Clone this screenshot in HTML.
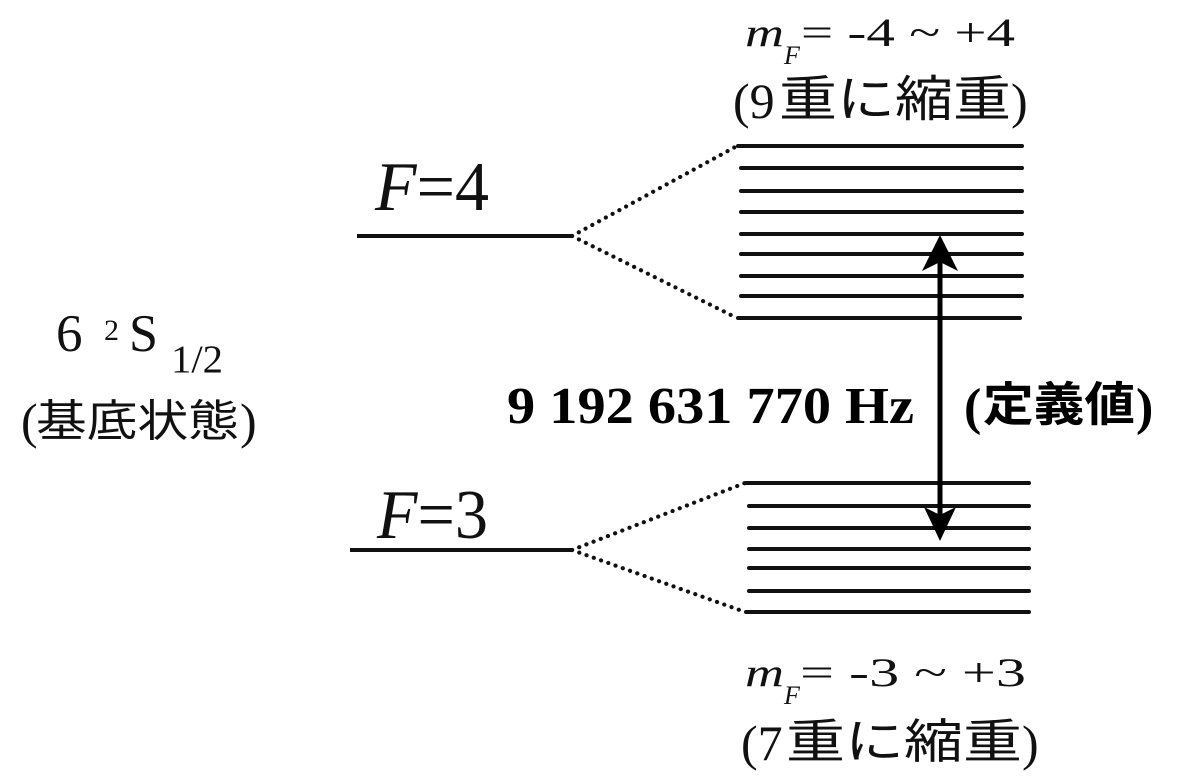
<!DOCTYPE html>
<html>
<head>
<meta charset="utf-8">
<style>
  html, body { margin: 0; padding: 0; background: #ffffff; }
  body { width: 1200px; height: 781px; overflow: hidden; }
  svg { display: block; }
  .serif { font-family: "Liberation Serif", "Noto Serif CJK SC", serif; }
  .cjk { font-family: "Liberation Sans", "Noto Sans CJK JP", sans-serif; }
</style>
</head>
<body>
<svg width="1200" height="781" viewBox="0 0 1200 781" xmlns="http://www.w3.org/2000/svg">
  <rect width="1200" height="781" fill="#ffffff"/>

  <!-- Main levels -->
  <g stroke="#111" stroke-width="4" stroke-linecap="butt">
    <line x1="357" y1="236" x2="571" y2="236"/>
    <line x1="350" y1="550" x2="571" y2="550"/>
  </g>

  <!-- Dotted connectors -->
  <g stroke="#111" stroke-width="4.2" stroke-linecap="round" stroke-dasharray="0.1 7.6" fill="none">
    <line x1="572" y1="236" x2="737" y2="146"/>
    <line x1="572" y1="236" x2="737" y2="318"/>
    <line x1="572" y1="550" x2="745" y2="483"/>
    <line x1="572" y1="550" x2="745" y2="612"/>
  </g>

  <!-- F=4 sublevels (9) -->
  <g stroke="#111" stroke-width="4" stroke-linecap="round">
    <line x1="738" y1="146" x2="1022" y2="146"/>
    <line x1="741" y1="168" x2="1022" y2="168"/>
    <line x1="741" y1="191" x2="1022" y2="191"/>
    <line x1="741" y1="212" x2="1022" y2="212"/>
    <line x1="741" y1="234" x2="1022" y2="234"/>
    <line x1="741" y1="254" x2="1022" y2="254"/>
    <line x1="741" y1="276" x2="1022" y2="276"/>
    <line x1="741" y1="296" x2="1022" y2="296"/>
    <line x1="738" y1="318" x2="1020" y2="318"/>
  </g>

  <!-- F=3 sublevels (7) -->
  <g stroke="#111" stroke-width="4" stroke-linecap="round">
    <line x1="746" y1="483" x2="1029" y2="483"/>
    <line x1="749" y1="506" x2="1029" y2="506"/>
    <line x1="749" y1="528" x2="1029" y2="528"/>
    <line x1="749" y1="549" x2="1029" y2="549"/>
    <line x1="749" y1="568" x2="1029" y2="568"/>
    <line x1="749" y1="591" x2="1029" y2="591"/>
    <line x1="746" y1="612" x2="1029" y2="612"/>
  </g>

  <!-- Double arrow -->
  <line x1="940" y1="258" x2="940" y2="518" stroke="#000" stroke-width="5"/>
  <polygon points="940,235 958,271 940,262 922,271" fill="#000"/>
  <polygon points="940,541 956,507 940,515 924,507" fill="#000"/>

  <!-- F=4 / F=3 labels -->
  <text class="serif" x="375" y="210" font-size="70" textLength="114" lengthAdjust="spacingAndGlyphs" fill="#111"><tspan font-style="italic">F</tspan>=4</text>
  <text class="serif" x="377" y="538" font-size="70" textLength="111" lengthAdjust="spacingAndGlyphs" fill="#111"><tspan font-style="italic">F</tspan>=3</text>

  <!-- 6 2S1/2 -->
  <text class="serif" x="56" y="351" font-size="53" fill="#111">6</text>
  <text class="serif" x="104" y="340" font-size="30" fill="#111">2</text>
  <text class="serif" x="129" y="351" font-size="53" textLength="29" lengthAdjust="spacingAndGlyphs" fill="#111">S</text>
  <text class="serif" x="171" y="372" font-size="39" textLength="52" lengthAdjust="spacingAndGlyphs" fill="#111">1/2</text>

  <!-- (基底状態) -->
  <text class="serif" x="21" y="438" font-size="50" fill="#111">(</text>
  <text class="cjk" x="36" y="436" font-size="44" textLength="203" lengthAdjust="spacingAndGlyphs" fill="#111">基底状態</text>
  <text class="serif" x="240" y="438" font-size="50" fill="#111">)</text>

  <!-- Frequency -->
  <text class="serif" x="507" y="423" font-size="52" font-weight="bold" textLength="407" lengthAdjust="spacingAndGlyphs" fill="#000">9 192 631 770 Hz</text>
  <text class="serif" x="964" y="424" font-size="52" font-weight="bold" fill="#000">(</text>
  <text class="cjk" x="983" y="421" font-size="47" font-weight="bold" textLength="152" lengthAdjust="spacingAndGlyphs" fill="#000">定義値</text>
  <text class="serif" x="1136" y="424" font-size="52" font-weight="bold" fill="#000">)</text>

  <!-- Top label: mF = -4 ~ +4 -->
  <text class="serif" x="745" y="46" font-size="40" font-style="italic" textLength="39" lengthAdjust="spacingAndGlyphs" fill="#111">m</text>
  <text class="serif" x="784" y="64" font-size="26" font-style="italic" fill="#111">F</text>
  <text class="serif" x="801" y="46" font-size="40" textLength="214" lengthAdjust="spacingAndGlyphs" fill="#111">= -4 ~ +4</text>

  <!-- (9重に縮重) -->
  <text class="serif" x="733" y="118" font-size="50" fill="#111">(9</text>
  <text class="cjk" x="779" y="116" font-size="49" textLength="232" lengthAdjust="spacingAndGlyphs" fill="#111">重に縮重</text>
  <text class="serif" x="1011" y="118" font-size="50" fill="#111">)</text>

  <!-- Bottom label: mF = -3 ~ +3 -->
  <text class="serif" x="745" y="686" font-size="40" font-style="italic" textLength="39" lengthAdjust="spacingAndGlyphs" fill="#111">m</text>
  <text class="serif" x="784" y="704" font-size="26" font-style="italic" fill="#111">F</text>
  <text class="serif" x="800" y="686" font-size="40" textLength="226" lengthAdjust="spacingAndGlyphs" fill="#111">= -3 ~ +3</text>

  <!-- (7重に縮重) -->
  <text class="serif" x="741" y="760" font-size="50" fill="#111">(7</text>
  <text class="cjk" x="786" y="758" font-size="47" textLength="236" lengthAdjust="spacingAndGlyphs" fill="#111">重に縮重</text>
  <text class="serif" x="1022" y="760" font-size="50" fill="#111">)</text>
</svg>
</body>
</html>
